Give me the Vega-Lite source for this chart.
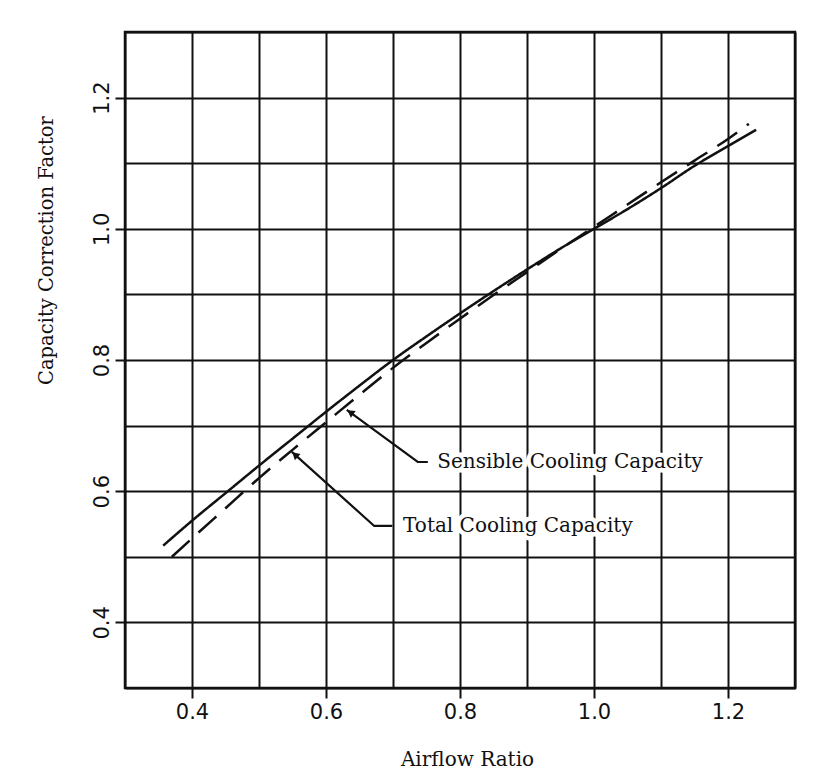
{
  "$schema": "https://vega.github.io/schema/vega-lite/v6.json",
  "width": 670,
  "height": 656,
  "autosize": "none",
  "padding": {"left": 125, "top": 32, "right": 24, "bottom": 91},
  "background": "white",
  "config": {
    "view": {"stroke": "#111", "strokeWidth": 2.5},
    "axis": {
      "grid": true,
      "gridColor": "#111",
      "gridWidth": 2,
      "gridOpacity": 1,
      "domain": false,
      "tickColor": "#111",
      "tickWidth": 2,
      "tickSize": 10,
      "labelColor": "#111",
      "labelFont": "DejaVu Sans",
      "labelFontSize": 21,
      "labelOverlap": false,
      "labelFlush": false,
      "titleColor": "#111",
      "titleFont": "DejaVu Serif",
      "titleFontWeight": "normal"
    }
  },
  "datasets": {
    "curves": [
      {"capacity": "Total Cooling Capacity", "airflow": 0.357, "factor": 0.517},
      {"capacity": "Total Cooling Capacity", "airflow": 0.40, "factor": 0.555},
      {"capacity": "Total Cooling Capacity", "airflow": 0.45, "factor": 0.597},
      {"capacity": "Total Cooling Capacity", "airflow": 0.50, "factor": 0.639},
      {"capacity": "Total Cooling Capacity", "airflow": 0.55, "factor": 0.680},
      {"capacity": "Total Cooling Capacity", "airflow": 0.60, "factor": 0.721},
      {"capacity": "Total Cooling Capacity", "airflow": 0.65, "factor": 0.761},
      {"capacity": "Total Cooling Capacity", "airflow": 0.70, "factor": 0.800},
      {"capacity": "Total Cooling Capacity", "airflow": 0.75, "factor": 0.836},
      {"capacity": "Total Cooling Capacity", "airflow": 0.80, "factor": 0.871},
      {"capacity": "Total Cooling Capacity", "airflow": 0.85, "factor": 0.905},
      {"capacity": "Total Cooling Capacity", "airflow": 0.90, "factor": 0.938},
      {"capacity": "Total Cooling Capacity", "airflow": 0.95, "factor": 0.970},
      {"capacity": "Total Cooling Capacity", "airflow": 1.00, "factor": 1.000},
      {"capacity": "Total Cooling Capacity", "airflow": 1.05, "factor": 1.030},
      {"capacity": "Total Cooling Capacity", "airflow": 1.10, "factor": 1.062},
      {"capacity": "Total Cooling Capacity", "airflow": 1.15, "factor": 1.096},
      {"capacity": "Total Cooling Capacity", "airflow": 1.20, "factor": 1.126},
      {"capacity": "Total Cooling Capacity", "airflow": 1.242, "factor": 1.151},
      {"capacity": "Sensible Cooling Capacity", "airflow": 0.370, "factor": 0.500},
      {"capacity": "Sensible Cooling Capacity", "airflow": 0.40, "factor": 0.528},
      {"capacity": "Sensible Cooling Capacity", "airflow": 0.45, "factor": 0.574},
      {"capacity": "Sensible Cooling Capacity", "airflow": 0.50, "factor": 0.620},
      {"capacity": "Sensible Cooling Capacity", "airflow": 0.55, "factor": 0.663},
      {"capacity": "Sensible Cooling Capacity", "airflow": 0.60, "factor": 0.705},
      {"capacity": "Sensible Cooling Capacity", "airflow": 0.65, "factor": 0.747},
      {"capacity": "Sensible Cooling Capacity", "airflow": 0.70, "factor": 0.788},
      {"capacity": "Sensible Cooling Capacity", "airflow": 0.75, "factor": 0.826},
      {"capacity": "Sensible Cooling Capacity", "airflow": 0.80, "factor": 0.863},
      {"capacity": "Sensible Cooling Capacity", "airflow": 0.85, "factor": 0.899},
      {"capacity": "Sensible Cooling Capacity", "airflow": 0.90, "factor": 0.934},
      {"capacity": "Sensible Cooling Capacity", "airflow": 0.95, "factor": 0.969},
      {"capacity": "Sensible Cooling Capacity", "airflow": 1.00, "factor": 1.003},
      {"capacity": "Sensible Cooling Capacity", "airflow": 1.05, "factor": 1.037},
      {"capacity": "Sensible Cooling Capacity", "airflow": 1.10, "factor": 1.071},
      {"capacity": "Sensible Cooling Capacity", "airflow": 1.15, "factor": 1.104},
      {"capacity": "Sensible Cooling Capacity", "airflow": 1.20, "factor": 1.137},
      {"capacity": "Sensible Cooling Capacity", "airflow": 1.231, "factor": 1.160}
    ],
    "arrows": [
      {"arrow": "Sensible Cooling Capacity", "step": 0, "airflow": 0.752, "factor": 0.6445},
      {"arrow": "Sensible Cooling Capacity", "step": 1, "airflow": 0.737, "factor": 0.6445},
      {"arrow": "Sensible Cooling Capacity", "step": 2, "airflow": 0.631, "factor": 0.724},
      {"arrow": "Total Cooling Capacity", "step": 0, "airflow": 0.699, "factor": 0.547},
      {"arrow": "Total Cooling Capacity", "step": 1, "airflow": 0.672, "factor": 0.547},
      {"arrow": "Total Cooling Capacity", "step": 2, "airflow": 0.549, "factor": 0.660}
    ],
    "heads": [
      {"arrow": "Sensible Cooling Capacity", "airflow": 0.6363, "factor": 0.7203},
      {"arrow": "Total Cooling Capacity", "airflow": 0.5537, "factor": 0.6556}
    ],
    "labels": [
      {"text": "Sensible Cooling Capacity", "airflow": 0.766, "factor": 0.6445},
      {"text": "Total Cooling Capacity", "airflow": 0.715, "factor": 0.547}
    ]
  },
  "encoding": {
    "x": {
      "field": "airflow",
      "type": "quantitative",
      "scale": {"domain": [0.3, 1.3], "nice": false, "zero": false},
      "axis": {
        "title": "Airflow Ratio",
        "values": [0.3, 0.4, 0.5, 0.6, 0.7, 0.8, 0.9, 1.0, 1.1, 1.2, 1.3],
        "labelExpr": "indexof(['0.4','0.6','0.8','1.0','1.2'], format(datum.value, '.1f')) >= 0 ? format(datum.value, '.1f') : ''",
        "tickOpacity": {"condition": {"test": "indexof(['0.4','0.6','0.8','1.0','1.2'], format(datum.value, '.1f')) >= 0", "value": 1}, "value": 0},
        "labelPadding": 3,
        "titleFontSize": 20,
        "titleX": 342,
        "titleY": 71,
        "titleBaseline": "middle",
        "titleAlign": "center"
      }
    },
    "y": {
      "field": "factor",
      "type": "quantitative",
      "scale": {"domain": [0.3, 1.3], "nice": false, "zero": false},
      "axis": {
        "title": "Capacity Correction Factor",
        "values": [0.3, 0.4, 0.5, 0.6, 0.7, 0.8, 0.9, 1.0, 1.1, 1.2, 1.3],
        "labelExpr": "indexof(['0.4','0.6','0.8','1.0','1.2'], format(datum.value, '.1f')) >= 0 ? format(datum.value, '.1f') : ''",
        "tickOpacity": {"condition": {"test": "indexof(['0.4','0.6','0.8','1.0','1.2'], format(datum.value, '.1f')) >= 0", "value": 1}, "value": 0},
        "labelAngle": 270,
        "labelAlign": "center",
        "labelBaseline": "bottom",
        "labelPadding": 3,
        "titleFontSize": 19.5,
        "titleAngle": 270,
        "titleX": -79,
        "titleY": 218,
        "titleBaseline": "middle",
        "titleAlign": "center"
      }
    }
  },
  "layer": [
    {
      "data": {"name": "curves"},
      "mark": {"type": "line", "color": "#111", "strokeWidth": 2.5, "interpolate": "monotone"},
      "encoding": {
        "detail": {"field": "capacity", "type": "nominal"},
        "strokeDash": {
          "field": "capacity",
          "type": "nominal",
          "scale": {"domain": ["Total Cooling Capacity", "Sensible Cooling Capacity"], "range": [[1, 0], [24, 12]]},
          "legend": null
        }
      }
    },
    {
      "data": {"name": "labels"},
      "mark": {"type": "text", "align": "left", "baseline": "middle", "font": "DejaVu Serif", "fontSize": 20, "color": "white", "stroke": "white", "strokeWidth": 9},
      "encoding": {"text": {"field": "text", "type": "nominal"}}
    },
    {
      "data": {"name": "arrows"},
      "mark": {"type": "line", "color": "#111", "strokeWidth": 2.2},
      "encoding": {
        "detail": {"field": "arrow", "type": "nominal"},
        "order": {"field": "step", "type": "quantitative"}
      }
    },
    {
      "data": {"name": "heads"},
      "transform": [{"filter": "datum.arrow == 'Sensible Cooling Capacity'"}],
      "mark": {"type": "point", "shape": "triangle-up", "filled": true, "color": "#111", "size": 70, "angle": 305, "opacity": 1},
      "encoding": {}
    },
    {
      "data": {"name": "heads"},
      "transform": [{"filter": "datum.arrow == 'Total Cooling Capacity'"}],
      "mark": {"type": "point", "shape": "triangle-up", "filled": true, "color": "#111", "size": 70, "angle": 312, "opacity": 1},
      "encoding": {}
    },
    {
      "data": {"name": "labels"},
      "mark": {"type": "text", "align": "left", "baseline": "middle", "font": "DejaVu Serif", "fontSize": 20, "color": "#111"},
      "encoding": {"text": {"field": "text", "type": "nominal"}}
    }
  ]
}
